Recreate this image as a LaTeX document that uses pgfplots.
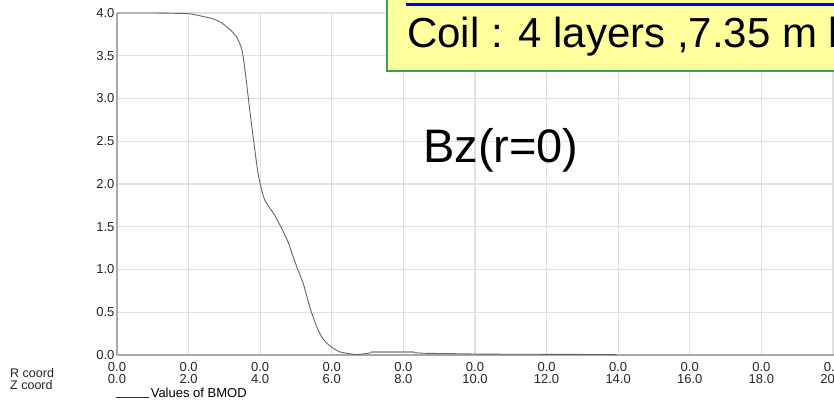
\documentclass[border=0pt]{standalone}
\usepackage{fontspec}
\setmainfont{Liberation Sans}
\usepackage{pgfplots}
\pgfplotsset{compat=1.18}

\definecolor{gridgray}{HTML}{E0E0E0}
\definecolor{axisgray}{HTML}{A8A8A8}
\definecolor{curvegray}{HTML}{666666}
\definecolor{noteyellow}{HTML}{FFFF9E}
\definecolor{notegreen}{HTML}{3E9B62}
\definecolor{linkblue}{HTML}{0000EE}

% Bz on axis (r=0) against Z coordinate
\pgfplotstableread{
z     b
0.00  4.000
1.00  4.000
1.80  3.995
2.04  3.990
2.40  3.960
2.69  3.930
2.90  3.890
3.06  3.840
3.20  3.790
3.34  3.720
3.45  3.620
3.50  3.550
3.56  3.380
3.62  3.180
3.73  2.790
3.85  2.400
3.93  2.150
3.99  2.020
4.06  1.900
4.13  1.810
4.25  1.730
4.41  1.630
4.60  1.480
4.78  1.320
4.92  1.150
5.05  1.000
5.20  0.840
5.32  0.660
5.44  0.490
5.58  0.330
5.72  0.210
5.86  0.140
6.00  0.090
6.20  0.040
6.42  0.020
6.70  0.005
7.00  0.020
7.25  0.035
7.80  0.035
8.20  0.030
8.60  0.020
9.50  0.015
10.30 0.010
12.00 0.008
13.96 0.005
}\bmod

\begin{document}
\begin{tikzpicture}[x=1pt,y=1pt]
\useasboundingbox (0,0) rectangle (834,404);
\clip (0,0) rectangle (834,404);
\fill[white] (0,0) rectangle (834,404);

\begin{axis}[
  at={(117pt,49pt)}, anchor=south west,
  scale only axis,
  width=717pt, height=342pt,
  xmin=0, xmax=20.03,
  ymin=0, ymax=4,
  axis x line*=bottom, axis y line*=left,
  axis line style={axisgray, line width=1.6pt},
  x axis line style={-}, y axis line style={-},
  xtick={0,2,...,20},
  ytick={0,0.5,...,4},
  major tick length=0pt,
  grid=major,
  major grid style={gridgray, line width=1.2pt},
  yticklabel style={/pgf/number format/fixed, /pgf/number format/fixed zerofill,
    /pgf/number format/precision=1, font=\fontsize{13}{13}\selectfont, color=black!85,
    xshift=1pt},
  /pgf/number format/assume math mode=true,
  xticklabels={{0.0\\0.0},{0.0\\2.0},{0.0\\4.0},{0.0\\6.0},{0.0\\8.0},{0.0\\10.0},
    {0.0\\12.0},{0.0\\14.0},{0.0\\16.0},{0.0\\18.0},{0.0\\20.0}},
  xticklabel style={align=center, font=\fontsize{13}{11.5}\selectfont, color=black!85, yshift=-4pt},
  legend style={at={(0,0)}, anchor=north west, yshift=-31pt, xshift=-2pt,
    draw=none, fill=none, font=\fontsize{13}{13}\selectfont, inner sep=0pt},
  legend cell align=left,
  legend image code/.code={\draw[black!80, line width=0.6pt] (0pt,-4pt) -- (33pt,-4pt);},
  clip=false,
]
\addplot[curvegray, line width=0.9pt, smooth, tension=0.4] table[x=z, y=b] {\bmod};
\addlegendentry{Values of BMOD}
\addplot[black!35, line width=2pt, forget plot] coordinates {(7.1,0.03) (8.3,0.03)};
\end{axis}

% row captions of the two-line tick labels
\node[anchor=base west, inner sep=0, font=\fontsize{12.5}{12.5}\selectfont, color=black!85] at (10,27) {R coord};
\node[anchor=base west, inner sep=0, font=\fontsize{12.5}{12.5}\selectfont, color=black!85] at (10,15) {Z coord};

% annotation
\node[anchor=base west, inner sep=0, font=\fontsize{47}{47}\selectfont] at (423,241) {Bz(r=0)};

% yellow note box, cut off by the frame
\draw[fill=noteyellow, draw=notegreen, line width=2pt] (387,333) rectangle (850,420);
\draw[linkblue, line width=3pt] (406,399) -- (850,399);
\node[anchor=base west, inner sep=0, font=\fontsize{42}{42}\selectfont] at (407,356) {Coil : 4 layers ,7.35 m l};
\end{tikzpicture}
\end{document}
